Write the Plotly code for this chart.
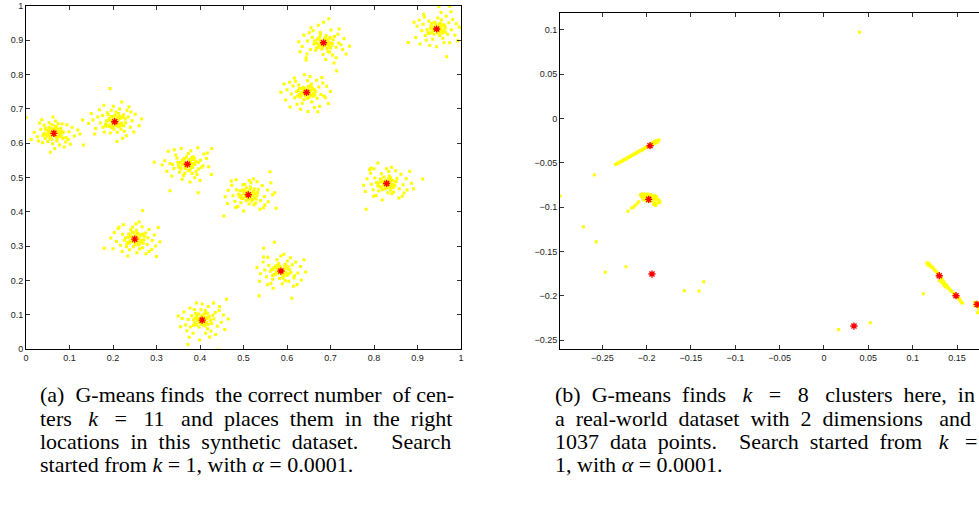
import plotly.graph_objects as go

W, H = 979, 506

# ---------------- (a) synthetic dataset ----------------
centers_a_x = [0.064, 0.204, 0.371, 0.250, 0.405, 0.511, 0.586, 0.645, 0.684, 0.944, 0.829]
centers_a_y = [0.629, 0.663, 0.539, 0.321, 0.085, 0.450, 0.228, 0.748, 0.893, 0.933, 0.483]

# point offsets (in thousandths) of the yellow points around each centre
offs_1 = [(-5,3),(12,-8),(-18,10),(22,4),(-9,-15),(3,21),(-25,-6),(16,15),(7,-22),(-14,-24),(28,-12),(-30,12),(0,-5),(9,9),(-3,-30),(19,27),(-22,24),(35,5),(-38,-10),(4,36),(13,-34),(-11,31),(27,-25),(-26,-27),(42,18),(-45,3),(2,-44),(-6,14),(11,0),(-16,-3),(21,-15),(-8,-9),(6,18),(-20,-15),(15,-4),(30,25),(-33,30),(47,-8),(-52,-18),(-2,48),(24,-40),(-28,40),(55,10),(-8,-55),(38,-32),(1,10),(-12,5),(8,-12),(17,6),(-23,-1),(33,-18),(-4,25),(10,28),(-35,-22),(60,-2),(68,-34),(-64,46)]
offs_2 = [(4,-6),(-13,9),(18,12),(-7,-18),(25,-3),(-21,-7),(9,24),(-4,15),(14,-21),(-28,18),(31,14),(-17,26),(6,-31),(-33,-4),(22,-28),(-10,-33),(36,-16),(-39,14),(11,37),(-24,-30),(28,33),(0,2),(-6,-8),(8,6),(15,-10),(-19,3),(20,20),(-12,-14),(3,28),(40,3),(-44,-20),(-3,45),(27,-41),(-35,35),(47,22),(-50,5),(18,-48),(33,43),(-46,-36),(56,-12),(-25,48),(7,-12),(-15,20),(12,16),(-27,-16),(24,8),(-2,-22),(37,28),(-8,33),(44,-30),(-54,24),(16,57),(62,8),(-60,-5),(5,-58),(-11,97),(-74,5)]
offs_3 = [(-3,4),(10,-7),(-15,-10),(19,9),(-8,17),(5,-19),(-22,6),(26,-14),(13,22),(-18,-23),(30,12),(-31,-12),(2,31),(-9,-33),(22,-30),(-27,27),(36,-4),(-40,2),(8,39),(17,-39),(-36,-34),(38,30),(0,-3),(7,10),(-11,1),(14,2),(-5,-12),(20,-20),(-24,18),(11,-27),(-2,22),(44,17),(-47,-20),(-14,46),(29,-47),(49,-7),(-52,10),(6,-52),(-30,42),(24,48),(55,-30),(-58,-2),(-12,-44),(4,14),(-20,-2),(16,18),(33,-9),(-34,-1),(25,5),(-6,-26),(46,33),(-44,38),(-76,6),(-40,-77),(56,46),(25,-83)]
offs_4 = [(2,-2),(-11,8),(14,11),(-16,-9),(9,-17),(21,-2),(-6,20),(-24,-3),(25,18),(-19,-22),(4,26),(-28,14),(29,-16),(11,-29),(-12,-31),(-33,-18),(33,28),(-5,35),(17,36),(-38,30),(40,-4),(39,-30),(-42,-7),(5,-40),(-1,9),(8,3),(-8,-6),(16,-8),(-14,15),(12,-13),(-3,-22),(22,8),(-21,4),(7,17),(45,12),(-47,19),(26,-43),(-26,42),(48,-20),(-50,-28),(10,50),(-16,-49),(54,34),(-55,3),(33,-36),(-36,35),(18,-25),(-29,-36),(3,44),(58,-8),(-70,-27),(18,83),(50,-51),(-9,27),(30,4)]
offs_5 = [(-4,2),(9,-6),(-12,10),(16,8),(-17,-8),(6,19),(22,-10),(-7,-20),(-24,13),(27,3),(12,-25),(-27,-20),(30,22),(-3,30),(-32,2),(20,-32),(-18,31),(35,-18),(-38,-14),(8,-38),(39,29),(-21,-38),(14,40),(-42,24),(1,-4),(-9,-2),(10,7),(-13,-14),(3,-14),(19,-1),(-2,12),(25,14),(-20,0),(-28,35),(44,-6),(-46,5),(0,47),(31,-42),(-35,-31),(49,15),(-50,-19),(17,-49),(-13,50),(52,-27),(-55,12),(26,50),(60,3),(-30,-50),(-6,-58),(40,40),(-33,-71),(37,-87),(56,61),(7,28),(-15,20)]
offs_6 = [(3,-4),(-10,7),(13,10),(-15,-11),(8,-18),(19,-3),(-4,20),(-22,2),(23,16),(-17,-23),(2,-27),(-27,15),(28,-17),(13,-29),(-12,29),(-31,-19),(32,27),(-35,-3),(6,35),(-24,-34),(37,-5),(20,38),(-38,28),(38,-30),(0,6),(7,1),(-7,-4),(15,-9),(-13,14),(10,-14),(-1,-15),(21,7),(-20,-6),(5,23),(44,14),(-46,13),(27,-42),(-28,44),(46,-20),(-48,-25),(12,46),(-11,-47),(52,35),(-53,-6),(35,-38),(-39,40),(17,-24),(-29,-37),(2,42),(56,0),(-56,-62),(64,-39),(50,67),(61,6),(-8,30)]
offs_7 = [(-2,3),(11,-5),(-14,9),(17,12),(-16,-10),(5,-20),(23,-4),(-5,22),(-24,-1),(26,18),(-19,-24),(10,-28),(-28,16),(31,-14),(15,29),(-9,33),(-33,-17),(34,26),(-37,3),(3,-37),(39,-6),(-23,-36),(22,39),(-41,26),(1,0),(8,7),(-8,-5),(14,-12),(-12,15),(6,-12),(-3,-22),(20,4),(-21,5),(9,19),(45,13),(-47,-8),(29,-44),(-30,40),(47,-26),(-49,-30),(7,49),(-18,-50),(53,33),(-55,10),(37,-39),(-40,41),(18,-30),(-31,-40),(0,44),(57,-3),(-50,-72),(-15,84),(25,-79),(-40,66),(30,-20)]
offs_8 = [(-3,-2),(9,6),(-12,-9),(15,-11),(-16,12),(4,18),(21,4),(-6,-20),(-23,3),(24,-17),(-18,22),(11,25),(-27,-15),(28,16),(12,-28),(-10,-31),(-31,19),(33,-6),(-35,-4),(2,34),(37,28),(-22,-34),(23,36),(-39,30),(0,5),(7,-4),(-8,2),(14,9),(-13,-2),(5,-13),(-4,12),(19,-7),(-20,-10),(10,16),(43,-15),(-45,8),(30,-40),(-28,42),(46,18),(-48,-22),(8,47),(-14,-49),(50,-32),(-52,25),(35,44),(-38,-42),(18,-44),(-25,33),(3,-55),(55,3),(69,63),(-59,1),(-5,52),(26,-56),(40,-10)]
offs_9 = [(2,3),(-10,-6),(12,-9),(-14,11),(15,13),(-4,-18),(20,-2),(6,21),(-22,-4),(-18,-22),(25,18),(10,-26),(-26,16),(29,-13),(-8,30),(-30,-20),(33,25),(-1,-34),(35,-1),(-37,5),(17,37),(21,-36),(-38,-33),(-24,35),(-2,-4),(6,8),(-6,5),(9,-3),(-12,-14),(3,14),(16,-15),(-20,6),(22,9),(-7,25),(44,-20),(-45,22),(29,-44),(-29,44),(47,12),(-49,-11),(5,-49),(-12,51),(52,-33),(-54,-26),(36,40),(-40,-44),(14,-27),(-33,29),(40,-6),(-57,3),(60,-10),(12,70),(-40,-50),(24,-59),(0,60)]
offs_10 = [(-3,2),(10,-5),(-13,8),(14,12),(-15,-12),(7,-19),(20,3),(-5,20),(-22,-2),(25,-15),(-18,23),(11,26),(-26,-19),(28,18),(14,-27),(-9,-30),(-31,14),(34,-2),(-34,-5),(3,32),(37,28),(-24,-33),(22,37),(-40,26),(1,-6),(6,7),(-8,-1),(15,-10),(-12,16),(5,-13),(-2,12),(19,8),(-20,-11),(8,17),(42,-18),(-45,8),(30,-40),(-30,43),(45,15),(-48,-25),(10,48),(-16,-48),(48,-34),(-52,20),(33,50),(-38,-44),(17,-40),(-28,35),(0,-52),(52,6),(-65,-39),(57,2),(23,-81),(30,66),(5,65)]
offs_11 = [(2,-3),(-11,6),(13,9),(-15,-10),(9,-19),(19,-5),(-6,19),(-23,3),(24,15),(-18,-22),(3,-27),(-27,16),(29,-15),(12,-30),(-12,28),(-31,-18),(33,27),(-35,-2),(5,35),(-24,-35),(38,-4),(21,37),(-37,30),(40,-28),(-1,5),(8,1),(-6,-5),(14,-8),(-13,13),(10,-13),(-2,-14),(22,6),(-19,-7),(6,22),(45,14),(-45,14),(28,-42),(-29,43),(47,-19),(-49,-23),(11,47),(-10,-48),(53,36),(-53,-5),(36,-37),(-39,40),(16,-25),(-30,-37),(0,43),(57,1),(83,13),(-47,-75),(-36,45),(62,-15),(-20,60)]

# denser cores of each cluster
core_1 = [(2,-1),(-4,6),(7,4),(-9,-3),(5,-9),(-2,11),(12,-2),(-13,8),(10,12),(-7,-12),(15,7),(-16,-8),(3,15),(-5,-17),(18,-10),(-19,14),(8,-16),(-11,18),(20,2),(-21,-2)]
core_2 = [(-1,2),(5,-3),(-6,-5),(8,5),(-3,9),(11,-7),(-10,4),(3,-11),(13,10),(-14,-10),(6,14),(-8,15),(16,-4),(-17,2),(10,-15),(-4,-16),(19,13),(-20,-13),(1,19),(21,-12)]
core_3 = [(1,1),(-5,-4),(6,-5),(-7,6),(9,3),(-2,-9),(4,10),(-11,-1),(12,-9),(-12,11),(14,14),(-15,-14),(7,-14),(-6,16),(17,-1),(-18,5),(2,-18),(19,9),(-20,-9),(10,19)]
core_4 = [(-1,-1),(5,5),(-6,3),(7,-6),(-4,-8),(3,9),(10,1),(-10,-4),(12,12),(-11,11),(8,-12),(-13,-12),(15,-4),(-16,5),(1,-15),(5,17),(-18,-14),(18,15),(-3,19),(20,-11)]
core_5 = [(2,2),(-5,5),(6,-4),(-7,-6),(4,9),(9,-9),(-11,2),(11,5),(-3,-11),(-13,12),(14,-13),(-14,-12),(3,15),(16,11),(-17,4),(7,-17),(-8,18),(19,-3),(-20,-15),(12,20)]
core_6 = [(-2,1),(4,-5),(-5,-6),(7,5),(-3,9),(10,-2),(-10,3),(2,-11),(12,11),(-12,-11),(9,-13),(-9,14),(15,3),(-16,-3),(4,16),(-5,-17),(18,-12),(-19,12),(14,17),(20,1)]
core_7 = [(1,-2),(-4,4),(6,3),(-6,-6),(3,-9),(-9,8),(10,-5),(-11,-2),(9,11),(-13,-11),(14,-12),(-2,13),(16,6),(-16,10),(5,-16),(-7,17),(18,-8),(-19,-13),(11,18),(-20,4)]
core_8 = [(1,2),(-5,-3),(6,-6),(-6,7),(8,4),(-3,-10),(4,10),(-11,0),(12,-8),(-12,12),(13,13),(-14,-13),(6,-14),(-7,15),(16,-2),(-17,-6),(2,-17),(18,8),(-19,6),(9,19)]
core_9 = [(-1,1),(5,4),(-5,-5),(7,-4),(-7,6),(2,-9),(10,8),(-10,-9),(11,-11),(-12,10),(4,12),(-3,-14),(14,1),(-15,-2),(15,15),(-16,-15),(8,-17),(-9,17),(19,-7),(-20,3)]
core_10 = [(1,-1),(-4,5),(5,4),(-6,-4),(8,-7),(-2,9),(10,2),(-10,-9),(11,11),(-12,9),(3,-12),(13,-12),(-14,1),(6,14),(-6,-15),(16,-3),(-17,-13),(17,12),(-3,18),(20,-9)]
core_11 = [(-1,2),(4,-4),(-6,-3),(6,6),(-3,9),(9,-8),(-9,5),(2,-11),(11,11),(-12,-10),(13,-3),(-14,12),(5,14),(-4,-15),(16,-11),(-17,2),(9,17),(-10,-18),(19,5),(-20,-6)]

offsets_a = [offs_1 + core_1, offs_2 + core_2, offs_3 + core_3, offs_4 + core_4, offs_5 + core_5,
             offs_6 + core_6, offs_7 + core_7, offs_8 + core_8, offs_9 + core_9, offs_10 + core_10,
             offs_11 + core_11]

ticks_a = [0, 0.1, 0.2, 0.3, 0.4, 0.5, 0.6, 0.7, 0.8, 0.9, 1]
ticktext_a = ["0", "0.1", "0.2", "0.3", "0.4", "0.5", "0.6", "0.7", "0.8", "0.9", "1"]

# ---------------- (b) real-world dataset (thousandths) ----------------
strand_b_x = [-235,-234,-233,-232,-231,-230,-229,-228,-227,-226,-225,-224,-223,-222,-221,-220,-219,-218,-217,-216,-215,-214,-213,-212,-211,-210,-209,-208,-207,-206,-205,-204,-203,-202,-201,-200,-199,-198,-197,-196,-195,-194,-193,-192,-191,-190,-189,-188,-187,-186,-195,-193,-191,-189,-190,-188,-192,-197]
strand_b_y = [-52.0,-51.2,-50.8,-50.4,-49.6,-49.2,-48.5,-48.1,-47.6,-46.8,-46.3,-45.9,-45.3,-44.6,-44.0,-43.6,-43.1,-42.3,-41.8,-41.4,-40.8,-40.0,-39.7,-39.1,-38.4,-38.0,-37.3,-36.9,-36.2,-35.8,-35.2,-34.4,-34.1,-33.4,-32.8,-32.4,-31.6,-31.2,-30.7,-29.9,-29.6,-28.8,-28.4,-27.7,-27.2,-26.6,-26.1,-25.6,-25.0,-24.4,-28.3,-27.0,-26.0,-24.8,-27.9,-26.8,-28.9,-31.8]
blob_b_x = [-207,-205,-203,-201,-199,-197,-195,-193,-191,-189,-206,-204,-202,-200,-198,-196,-194,-192,-190,-188,-186,-185,-187,-189,-191,-204,-202,-200,-196,-194,-199,-201,-186,-190,-192,-209,-211,-213,-215,-217,-221]
blob_b_y = [-86,-85,-85,-86,-85,-86,-86,-87,-87,-88,-88,-89,-88,-89,-88,-89,-90,-90,-91,-91,-92,-94,-95,-96,-95,-91,-92,-93,-93,-93,-91,-90,-95,-98,-97,-94,-96,-98,-100,-101,-104.5]
strand_r_x = [116,117,118,119,120,121,122,123,124,125,126,127,128,129,131,132,133,134,135,136,137,138,139,140,141,142,143,144,146,147,149,150,151,152,153,154,155,156,133,135,137,130,170,171,172,173,174,170,174.5,173]
strand_r_y = [-163,-165,-163,-166,-165,-167,-168,-168,-170,-171,-172,-173,-175,-176,-178,-180,-181,-183,-184,-186,-187,-188,-189,-191,-192,-193,-194,-195,-197,-198,-200,-201,-202,-203,-204,-206,-207,-208,-185,-188,-190,-183,-207,-209,-211,-208,-212,-211,-215,-219]
outliers_b_x = [40, -259, -297.5, -271.4, -256.8, -246.6, -223.3, -157.5, -141, -135.7, 16.5, 52.2, 112]
outliers_b_y = [97, -63.8, -87.4, -122, -138.9, -173.4, -167, -194, -194.5, -184, -237.7, -230.1, -197.5]
centers_b_x = [-0.1962, -0.1977, -0.1940, 0.0338, 0.1300, 0.1489, 0.1726]
centers_b_y = [-0.0307, -0.0912, -0.1753, -0.2339, -0.1772, -0.1997, -0.2095]

ticks_bx = [-0.25, -0.2, -0.15, -0.1, -0.05, 0, 0.05, 0.1, 0.15]
ticks_by = [-0.25, -0.2, -0.15, -0.1, -0.05, 0, 0.05, 0.1]

S = "\u00a0"
captions_a = [
    "(a)" + S*2 + "G-means finds" + S*2 + "the correct number" + S*2 + "of cen-",
    "ters" + S*3 + "<i>k</i>" + S*3 + "=" + S*3 + "11" + S*3 + "and" + S*2 + "places" + S*2 + "them" + S*2 + "in" + S*2 + "the" + S*2 + "right",
    "locations" + S*2 + "in" + S*2 + "this" + S*2 + "synthetic" + S*2 + "dataset." + S*6 + "Search",
    "started from <i>k</i> = 1, with <i>α</i> = 0.0001.",
]
captions_b = [
    "(b)" + S*2 + "G-means" + S*2 + "finds" + S*3 + "<i>k</i>" + S*3 + "=" + S*3 + "8" + S*3 + "clusters" + S*2 + "here," + S*2 + "in",
    "a" + S*2 + "real-world" + S*2 + "dataset" + S*2 + "with" + S*2 + "2" + S*2 + "dimensions" + S*3 + "and",
    "1037" + S*2 + "data" + S*2 + "points." + S*4 + "Search" + S*2 + "started" + S*2 + "from" + S*3 + "<i>k</i>" + S*3 + "=",
    "1, with <i>α</i> = 0.0001.",
]


def fmt(v):
    if v == 0:
        return "0"
    s = ("%g" % abs(v))
    return ("\u2212" + s) if v < 0 else s


fig = go.Figure()

ax_pts, ay_pts = [], []
for cx, cy, offs in zip(centers_a_x, centers_a_y, offsets_a):
    for dx, dy in offs:
        ax_pts.append(cx + dx / 1000.0)
        ay_pts.append(cy + dy / 1000.0)

yellow = dict(color="#FFFF00", size=3, symbol="square", line=dict(width=0))
star = dict(color="#FF0000", size=6, symbol="asterisk-open", line=dict(color="#FF0000", width=1.4))

fig.add_trace(go.Scatter(x=ax_pts, y=ay_pts, mode="markers", marker=yellow, xaxis="x", yaxis="y", showlegend=False))
fig.add_trace(go.Scatter(x=centers_a_x, y=centers_a_y, mode="markers", marker=star, xaxis="x", yaxis="y", showlegend=False))

bx = [v / 1000.0 for v in strand_b_x + blob_b_x + strand_r_x + outliers_b_x]
by = [v / 1000.0 for v in strand_b_y + blob_b_y + strand_r_y + outliers_b_y]
fig.add_trace(go.Scatter(x=bx, y=by, mode="markers", marker=yellow, xaxis="x2", yaxis="y2", showlegend=False))
fig.add_trace(go.Scatter(x=centers_b_x, y=centers_b_y, mode="markers", marker=star, xaxis="x2", yaxis="y2", showlegend=False))

tickfont = dict(family="Liberation Sans, Arial, sans-serif", size=9, color="#222222")
common = dict(showgrid=False, zeroline=False, showline=True, linecolor="black", linewidth=1,
              ticks="inside", ticklen=4, tickcolor="#333333", tickwidth=1, tickfont=tickfont,
              automargin=False, fixedrange=True)

fig.update_layout(
    width=W, height=H, template="none",
    paper_bgcolor="white", plot_bgcolor="white",
    margin=dict(l=0, r=0, t=0, b=0, pad=0),
    xaxis=dict(domain=[26 / W, 461 / W], range=[0, 1], tickvals=ticks_a, ticktext=ticktext_a,
               mirror="ticks", anchor="y", **common),
    yaxis=dict(domain=[(H - 349.3) / H, (H - 6) / H], range=[0, 1], tickvals=ticks_a, ticktext=ticktext_a,
               mirror="ticks", anchor="x", **common),
    xaxis2=dict(domain=[560 / W, 1.0], range=[-0.2977, 0.1748], tickvals=ticks_bx,
                ticktext=[fmt(v) for v in ticks_bx], mirror="ticks", anchor="y2", **common),
    yaxis2=dict(domain=[(H - 349.3) / H, (H - 13) / H], range=[-0.2601, 0.1188], tickvals=ticks_by,
                ticktext=[fmt(v) for v in ticks_by], mirror=False, anchor="x2", **common),
)

cap_font = dict(family="Liberation Serif, Times New Roman, serif", size=22, color="black")
line_y = [394, 418, 441, 464]
for txt, py in zip(captions_a, line_y):
    fig.add_annotation(x=38 / W, y=1 - py / H, xref="paper", yref="paper", text=txt, showarrow=False,
                       xanchor="left", yanchor="middle", font=cap_font)
for txt, py in zip(captions_b, line_y):
    fig.add_annotation(x=553 / W, y=1 - py / H, xref="paper", yref="paper", text=txt, showarrow=False,
                       xanchor="left", yanchor="middle", font=cap_font)

fig.write_html("out.html", config={"displayModeBar": False, "staticPlot": True},
               post_script="document.body.style.margin='0';document.body.style.padding='0';"
                           "document.body.style.overflow='hidden';")
